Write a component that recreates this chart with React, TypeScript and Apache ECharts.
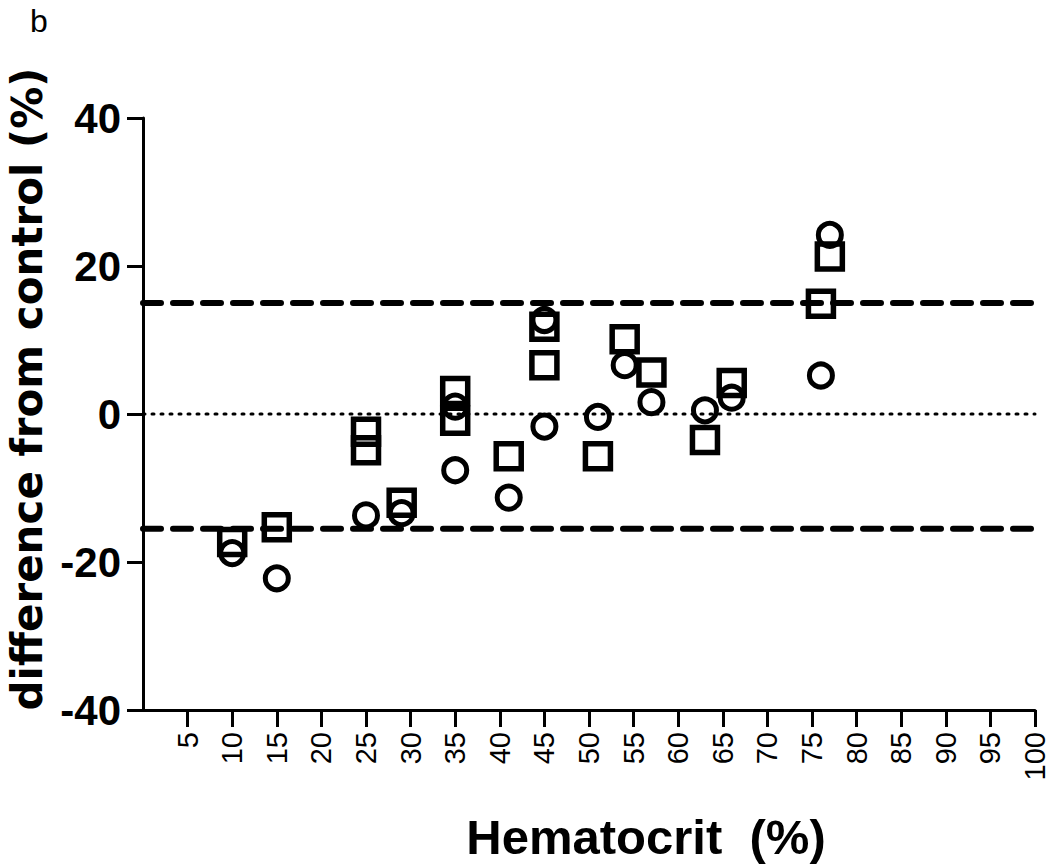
import React, { useEffect, useRef } from "react";
import * as echarts from "echarts";

// ---- data ----
const circlePoints: [number, number][] = [
  [10, -18.8], [15, -22.2], [25, -13.7], [29, -13.4], [35, 1.0], [35, -7.6],
  [41, -11.3], [45, 12.7], [45, -1.7], [51, -0.4], [54, 6.6], [57, 1.6],
  [63, 0.5], [66, 2.2], [76, 5.2], [77, 24.2],
];
const squarePoints: [number, number][] = [
  [10, -17.3], [15, -15.3], [25, -2.4], [25, -4.9], [29, -12.0], [35, 3.1],
  [35, -0.9], [41, -5.7], [45, 11.8], [45, 6.6], [51, -5.7], [54, 10.1],
  [57, 5.6], [63, -3.5], [66, 4.2], [76, 14.9], [77, 21.3],
];
const upperLimit = 15;
const lowerLimit = -15.5;
const zeroLine = 0;
const lineXRange = [0, 100];
const xTicks = [5, 10, 15, 20, 25, 30, 35, 40, 45, 50, 55, 60, 65, 70, 75, 80, 85, 90, 95, 100];
const yTicks = [-40, -20, 0, 20, 40];

const panelLabel = "b";
const xTitle = "Hematocrit  (%)";
const yTitle = "difference from control (%)";

export default function App() {
  const ref = useRef<HTMLDivElement>(null);
  useEffect(() => {
    document.body.style.margin = "0";
    if (!ref.current) return;
    const chart = echarts.init(ref.current, null, { renderer: "svg" });
    const hLine = (y: number) => lineXRange.map((x) => [x, y]);
    const option: any = {
      animation: false,
      backgroundColor: "#ffffff",
      grid: { left: 143, top: 118, width: 892, height: 592, containLabel: false },
      xAxis: {
        type: "value",
        min: 0,
        max: 100,
        interval: 5,
        splitLine: { show: false },
        axisLine: { show: true, onZero: false, lineStyle: { color: "#000", width: 3 } },
        axisTick: { show: true, length: 17, lineStyle: { color: "#000", width: 3 }, customValues: xTicks },
        axisLabel: {
          customValues: xTicks,
          rotate: 90,
          fontSize: 29,
          lineHeight: 24,
          fontFamily: "Liberation Sans, Arial, sans-serif",
          color: "#000",
          margin: 22,
        },
      },
      yAxis: {
        type: "value",
        min: -40,
        max: 40,
        interval: 20,
        splitLine: { show: false },
        axisLine: { show: true, onZero: false, lineStyle: { color: "#000", width: 3 } },
        axisTick: { show: true, length: 16, lineStyle: { color: "#000", width: 3 }, customValues: yTicks },
        axisLabel: {
          customValues: yTicks,
          fontSize: 42,
          fontWeight: "bold",
          fontFamily: "Liberation Sans, Arial, sans-serif",
          color: "#000",
          margin: 22,
        },
      },
      graphic: [
        {
          type: "text",
          x: 30,
          y: 21,
          style: { text: panelLabel, font: "32px 'Liberation Sans', Arial, sans-serif", fill: "#000", textAlign: "left", textVerticalAlign: "middle" },
        },
        {
          type: "text",
          x: 646,
          y: 837,
          style: { text: xTitle, font: "bold 49px 'Liberation Sans', Arial, sans-serif", fill: "#000", textAlign: "center", textVerticalAlign: "middle" },
        },
        {
          type: "text",
          x: 27,
          y: 389,
          rotation: Math.PI / 2,
          style: { text: yTitle, font: "bold 42px 'DejaVu Sans', sans-serif", lineHeight: 40, fill: "#000", textAlign: "center", textVerticalAlign: "middle" },
        },
      ],
      series: [
        {
          type: "line",
          data: hLine(zeroLine),
          symbol: "none",
          silent: true,
          lineStyle: { color: "#000", width: 3, type: [2, 7], cap: "round" },
          z: 1,
        },
        {
          type: "line",
          data: hLine(upperLimit),
          symbol: "none",
          silent: true,
          lineStyle: { color: "#000", width: 6, type: [18, 12], cap: "round" },
          z: 1,
        },
        {
          type: "line",
          data: hLine(lowerLimit),
          symbol: "none",
          silent: true,
          lineStyle: { color: "#000", width: 6, type: [18, 12], cap: "round" },
          z: 1,
        },
        {
          type: "scatter",
          data: squarePoints,
          symbol: "rect",
          symbolSize: 25,
          itemStyle: { color: "rgba(0,0,0,0)", borderColor: "#000", borderWidth: 5.5, opacity: 1 },
          z: 3,
        },
        {
          type: "scatter",
          data: circlePoints,
          symbol: "circle",
          symbolSize: 23,
          itemStyle: { color: "rgba(0,0,0,0)", borderColor: "#000", borderWidth: 5, opacity: 1 },
          z: 3,
        },
      ],
    };
    chart.setOption(option);
    return () => chart.dispose();
  }, []);
  return <div ref={ref} style={{ width: 1050, height: 865 }} />;
}
